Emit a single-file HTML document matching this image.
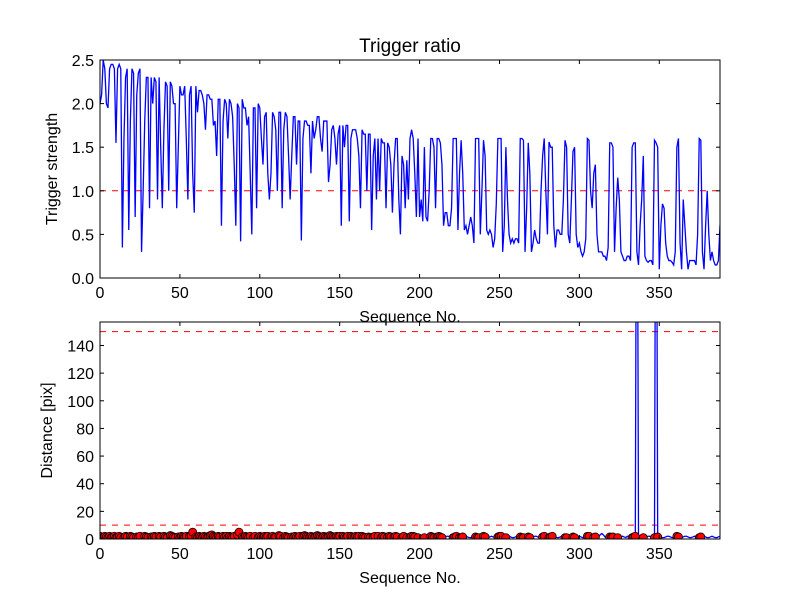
<!DOCTYPE html>
<html><head><meta charset="utf-8"><style>
body{margin:0;background:#fff;}
svg text{font-family:"Liberation Sans",sans-serif;}
</style></head><body>
<svg id="chart" width="800" height="600" xmlns="http://www.w3.org/2000/svg">
<rect width="800" height="600" fill="#fff"/>
<defs>
<clipPath id="c1"><rect x="100" y="60" width="620" height="218"/></clipPath>
<clipPath id="c2"><rect x="100" y="322" width="620" height="217"/></clipPath>
</defs>
<g id="top"></g><g id="bot"></g>
</svg>
<script>
const ratio=[2.0,2.1,2.5,2.4,2.0,1.95,2.4,2.45,2.45,2.4,1.55,2.4,2.45,2.4,0.35,1.6,2.3,2.4,0.55,1.8,
2.4,2.35,0.7,2.1,2.35,2.4,0.3,1.0,1.8,2.3,2.3,0.8,2.3,2.0,2.3,2.25,0.9,2.3,1.5,0.8,
1.7,2.25,2.2,1.0,2.25,2.2,2.0,2.0,0.8,1.5,2.2,2.1,2.1,2.2,1.6,0.9,2.1,2.2,1.2,0.75,
2.2,1.9,2.15,2.15,2.1,2.0,1.7,2.1,2.1,2.05,2.05,1.75,1.8,1.4,2.05,2.05,0.6,1.8,2.05,2.0,
1.6,2.05,2.0,1.85,1.3,0.6,2.0,1.95,0.42,2.05,1.95,1.95,1.75,1.85,1.2,0.5,1.95,1.95,0.8,2.0,
1.95,1.6,1.3,1.85,1.9,1.2,0.9,1.2,1.9,1.85,1.7,1.0,1.9,1.9,0.8,1.7,1.9,1.85,1.4,0.9,
1.4,1.85,1.85,1.3,1.8,1.8,0.43,1.6,1.8,1.8,1.75,1.75,1.2,1.8,1.6,1.7,1.85,1.85,1.6,1.45,
1.8,1.8,1.8,1.1,1.3,1.7,1.75,1.6,1.3,1.65,1.75,0.6,1.75,1.5,1.75,1.75,0.65,1.6,1.7,1.7,
1.7,1.6,1.4,0.8,1.7,1.65,1.65,1.0,1.65,1.65,0.55,1.4,1.6,0.9,1.6,1.0,1.6,1.55,1.55,0.8,
1.55,1.5,1.3,0.75,1.3,1.6,1.6,0.9,0.5,1.4,
1.3,0.8,1.35,0.9,1.6,1.7,1.6,1.2,0.7,1.6,0.7,0.9,0.65,1.5,0.7,0.65,1.0,1.6,1.6,1.5,
0.8,1.6,1.6,1.55,1.3,0.6,0.75,0.75,0.6,0.6,0.8,1.6,1.6,1.6,0.55,1.2,1.58,1.2,0.55,0.6,
0.5,0.6,0.7,0.6,0.4,1.6,1.6,1.6,0.5,1.0,1.58,1.4,0.55,0.5,0.55,0.5,0.35,0.45,0.85,1.6,
1.6,1.6,0.3,0.6,1.5,0.9,0.5,0.4,0.45,0.4,0.45,0.45,0.4,1.6,1.6,1.58,0.3,0.8,1.55,1.2,
0.3,0.4,0.55,0.45,0.4,0.4,1.0,1.4,1.6,1.0,0.5,1.56,1.5,1.5,0.6,0.35,0.55,0.55,0.5,0.5,
0.9,1.58,1.5,0.5,0.4,0.9,1.45,1.5,0.5,0.35,0.4,0.3,0.25,0.3,0.45,1.6,1.58,1.0,0.8,1.2,
1.3,0.5,0.3,0.3,0.3,0.25,0.25,0.2,0.35,1.55,1.55,1.5,0.3,0.8,1.15,0.9,0.3,0.25,0.2,0.2,
0.25,0.25,0.2,1.5,1.55,1.55,0.3,0.15,0.6,0.9,1.4,0.25,0.2,0.18,0.2,0.2,0.15,1.58,1.55,1.5,
0.1,0.6,0.85,0.8,0.4,0.25,0.2,0.2,0.18,0.15,0.3,1.5,1.6,0.4,0.1,0.9,0.6,0.3,0.1,0.2,
0.2,0.2,0.2,0.15,0.5,1.6,1.58,0.3,0.1,0.6,1.0,0.5,0.2,0.3,0.2,0.15,0.15,0.2,0.6,0.6];
const dist=[
2,1.5,1,2,1.5,1,2,1,1.5,2,
1,1.5,2,1,1.5,1,2,1.5,1,2,
1.5,1,2,1.5,1,2,2.5,3,2,1.5,
1,2,1.5,1,2,1.5,1,2,1.5,1,
2,1.5,1,2,2.5,2,1.5,1,2,1.5,
1,2,1.5,1,2,1.5,2,2.5,5,2,
1.5,1,2,1.5,1,2,1.5,1,2,2.5,
3,2,1.5,1,2,1.5,1,2,1.5,2,
1,2,1.5,1,2,2.5,3,5,2,1.5,
1,2,1.5,1,2,1.5,1,2,1.5,1,
2,1.5,1,2,1.5,2,1,1.5,2,1,
1.5,2,2.5,2,1.5,1,2,1.5,1,2,
1.5,1,2,1.5,1,2,1.5,2,2.5,2,
1.5,1,2,1.5,1,2,2.5,2,1.5,1,
2,1.5,1,2,2.5,2,1.5,1,2,1.5,
2,2.5,2,1.5,1,2,2.5,2,1.5,1,
2,1.5,2,2.5,2,1.5,1,2,1.5,1,
2,1.5,2,2.5,2,1.5,1,2,1.5,1,
1.5,2,1.5,1,1.5,2,1.5,1,1.5,1,
2,1.5,1,1,1.5,2,2,1.5,1,1,
1.5,2,1.5,1,1,1.5,2,2,1.5,1,
1,1.5,2,1.5,1,1,1.5,2,2,1.5,
1,1,1.5,2,1.5,1,1,1.5,2,2,
1.5,1,1,1.5,2,1.5,1,1,1.5,2,
2,1.5,1,1,1.5,2,1.5,1,1,1.5,
2,2,1.5,1,1,1.5,2,1.5,1,1,
1.5,2,2,1.5,1,1,1.5,2,1.5,1,
1,1.5,2,2,1.5,1,1,1.5,2,1.5,
1,1,1.5,2,2,1.5,1,1,1.5,2,
1.5,1,1,1.5,2,2,1.5,1,1,1.5,
2,1.5,1,1,1.5,2,2,1.5,1,1,
1.5,2,1.5,3,4,3,1.5,1,1,1.5,
1,1.5,2,1.5,1,1,1.5,2,1.5,1,
2,1.5,1,1,1.5,2,400,1.5,2,1.5,
1,1,1.5,2,2,1.5,1,1,400,1.5,
2,1.5,1,1,1.5,2,2,1.5,1,1,
1.5,2,1.5,1,1,1.5,2,2,1.5,1,
1,1.5,2,1.5,1,1,1.5,2,2,1.5,
1,1,1.5,2,1.5,1,1,1.5,2,4];
const xTicks=[0,50,100,150,200,250,300,350];
const yTicksTop=[0.0,0.5,1.0,1.5,2.0,2.5];
const yTicksBot=[0,20,40,60,80,100,120,140];
const threshTop=1.0, threshBot=[10,150];
</script>
<script>
const NS="http://www.w3.org/2000/svg";
const L=100,R=720,XMAX=388;
const sx=v=>L+(v/XMAX)*(R-L);
function mk(p,tag,at){const e=document.createElementNS(NS,tag);for(const k in at)e.setAttribute(k,at[k]);p.appendChild(e);return e;}
function axes(g,T,B,ymax,yt,fmt,ylabel,title,prefix){
  const sy=v=>B-(v/ymax)*(B-T);
  xTicks.forEach(t=>{const x=sx(t);
    const a=mk(g,'line',{x1:x,x2:x,y1:B,y2:B-4,stroke:'#000'});
    
    
    mk(g,'line',{x1:x,x2:x,y1:T,y2:T+4,stroke:'#000'});
    const tx=mk(g,'text',{x:x,y:B+20,'text-anchor':'middle','font-size':16});tx.textContent=t;
    
    });
  yt.forEach(t=>{const y=sy(t);
    mk(g,'line',{x1:L,x2:L+4,y1:y,y2:y,stroke:'#000'});
    mk(g,'line',{x1:R,x2:R-4,y1:y,y2:y,stroke:'#000'});
    const tx=mk(g,'text',{x:L-6,y:y+6,'text-anchor':'end','font-size':16});tx.textContent=fmt(t);
    
    });
  const yl=mk(g,'text',{x:0,y:0,'text-anchor':'middle','font-size':16,transform:`translate(${prefix=='top'?57:52},${(T+B)/2}) rotate(-90)`});yl.textContent=ylabel;
  
  
  const xl=mk(g,'text',{x:(L+R)/2,y:B+44,'text-anchor':'middle','font-size':16});xl.textContent='Sequence No.';
  
  
  if(title){const tt=mk(g,'text',{x:(L+R)/2,y:T-8,'text-anchor':'middle','font-size':19});tt.textContent=title;
    
    }
  return sy;
}
const gt=document.getElementById('top');
const syT=v=>278-(v/2.5)*218;
const ct=mk(gt,'g',{'clip-path':'url(#c1)'});
const tl=mk(ct,'line',{x1:L,x2:R,y1:syT(threshTop),y2:syT(threshTop),stroke:'red','stroke-dasharray':'6,6'});


const pl=mk(ct,'polyline',{points:ratio.map((v,i)=>sx(i)+','+syT(v)).join(' '),fill:'none',stroke:'blue','stroke-width':1.3});


axes(gt,60,278,2.5,yTicksTop,t=>t.toFixed(1),'Trigger strength','Trigger ratio','top');
const f1=mk(gt,'rect',{x:L,y:60,width:R-L,height:218,fill:'none',stroke:'#000'});


const gb=document.getElementById('bot');
const YB=157;
const syB=v=>539-(v/YB)*217;
const cb=mk(gb,'g',{'clip-path':'url(#c2)'});
threshBot.forEach(t=>{const l=mk(cb,'line',{x1:L,x2:R,y1:syB(t),y2:syB(t),stroke:'red','stroke-dasharray':'6,6'});
  
  });
const pb=mk(cb,'polyline',{points:dist.map((v,i)=>sx(i)+','+syB(v)).join(' '),fill:'none',stroke:'blue','stroke-width':1.3});


dist.forEach((v,i)=>{if(ratio[i]>threshTop){const c=mk(cb,'circle',{cx:sx(i),cy:syB(v),r:4,fill:'red',stroke:'#000','stroke-width':0.8});
  
  }});
axes(gb,322,539,YB,yTicksBot,t=>t,'Distance [pix]',null,'bottom');
const f2=mk(gb,'rect',{x:L,y:322,width:R-L,height:217,fill:'none',stroke:'#000'});


</script>
</body></html>
